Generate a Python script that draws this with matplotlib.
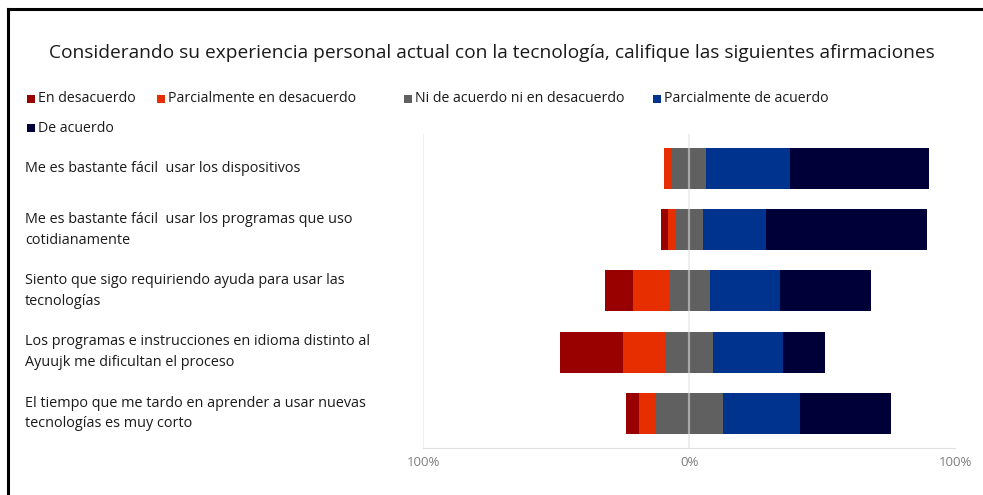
import matplotlib.pyplot as plt
from matplotlib.patches import Rectangle
from matplotlib.lines import Line2D
from matplotlib.transforms import blended_transform_factory

plt.rcParams['font.family'] = ['Open Sans', 'DejaVu Sans']

# Inputs
title = "Considerando su experiencia personal actual con la tecnología, califique las siguientes afirmaciones"
statements = [
    "Me es bastante fácil  usar los dispositivos",
    "Me es bastante fácil  usar los programas que uso\ncotidianamente",
    "Siento que sigo requiriendo ayuda para usar las\ntecnologías",
    "Los programas e instrucciones en idioma distinto al\nAyuujk me dificultan el proceso",
    "El tiempo que me tardo en aprender a usar nuevas\ntecnologías es muy corto",
]
answers = ["En desacuerdo", "Parcialmente en desacuerdo", "Ni de acuerdo ni en desacuerdo",
           "Parcialmente de acuerdo", "De acuerdo"]
colors = ['#990000', '#e62e00', '#606060', '#00338d', '#000038']

# percentage of answers per statement (same order as answers)
en_desacuerdo = [0.0, 2.6, 10.5, 23.7, 5.0]
parc_desacuerdo = [2.9, 3.0, 13.3, 16.0, 6.0]
neutral = [12.9, 10.2, 15.6, 18.2, 25.7]
parc_acuerdo = [31.3, 23.7, 26.5, 26.2, 28.9]
de_acuerdo = [52.6, 60.5, 34.2, 15.9, 34.2]

xticks = [-100, 0, 100]
xtick_labels = ['100%', '0%', '100%']
# -------

series = [en_desacuerdo, parc_desacuerdo, neutral, parc_acuerdo, de_acuerdo]
bar_h = 0.67

fig = plt.figure(figsize=(9.83, 4.95), dpi=100)
ax = fig.add_axes([0.4308, 0.0956, 0.5407, 0.6331])

# diverging stack: the neutral block is centered on 0
for i in range(len(statements)):
    left = -(series[0][i] + series[1][i] + series[2][i] / 2)
    for k, s in enumerate(series):
        ax.barh(i, s[i], left=left, height=bar_h, color=colors[k], linewidth=0, zorder=2)
        left += s[i]

ax.set_xlim(-100, 100)
ax.set_ylim(4.56, -0.56)
# 0% gridline: faint in the background, lighter stripe where it crosses the bars
ax.axvline(0, color='#ebebeb', linewidth=1.2, zorder=1)
for i in range(len(statements)):
    ax.vlines(0, i - bar_h / 2, i + bar_h / 2, color='#a8a8a8', linewidth=1.6, zorder=3)
for xv in (-100, 100):
    ax.axvline(xv, color='#f0f0f0', linewidth=0.8, zorder=1)

for sp in ['top', 'left', 'right']:
    ax.spines[sp].set_visible(False)
ax.spines['bottom'].set_color('#e0e0e0')
ax.spines['bottom'].set_linewidth(0.8)
ax.set_yticks([])
ax.set_xticks(xticks, xtick_labels)
ax.tick_params(axis='x', length=0, pad=6, labelsize=9.5, labelcolor='#7f7f7f')

# statement labels at the left of the figure
trans = blended_transform_factory(fig.transFigure, ax.transData)
for i, txt in enumerate(statements):
    ax.text(25 / 983, i, txt, transform=trans, ha='left', va='center',
            fontsize=10.4, color='#1a1a1a', linespacing=1.5)

fig.text(0.5, 1 - 53 / 495, title, ha='center', va='center', fontsize=13.8, color='#1a1a1a')

# legend
leg_pos = [(27, 99), (157, 99), (404, 99), (653, 99), (27, 128)]
for (px, py), lab, c in zip(leg_pos, answers, colors):
    fig.add_artist(Rectangle((px / 983, 1 - (py + 4) / 495), 8 / 983, 8 / 495,
                             transform=fig.transFigure, color=c, linewidth=0))
    fig.text((px + 11) / 983, 1 - py / 495, lab, ha='left', va='center', fontsize=10.2, color='#1a1a1a')

# frame of the original screenshot
fig.add_artist(Line2D([7.5 / 983, 7.5 / 983], [0, 1 - 8.5 / 495], transform=fig.transFigure,
                      color='black', linewidth=2.2))
fig.add_artist(Line2D([7.5 / 983, 1], [1 - 8.5 / 495, 1 - 8.5 / 495], transform=fig.transFigure,
                      color='black', linewidth=2.2))

fig.savefig('out.png', dpi=100)
